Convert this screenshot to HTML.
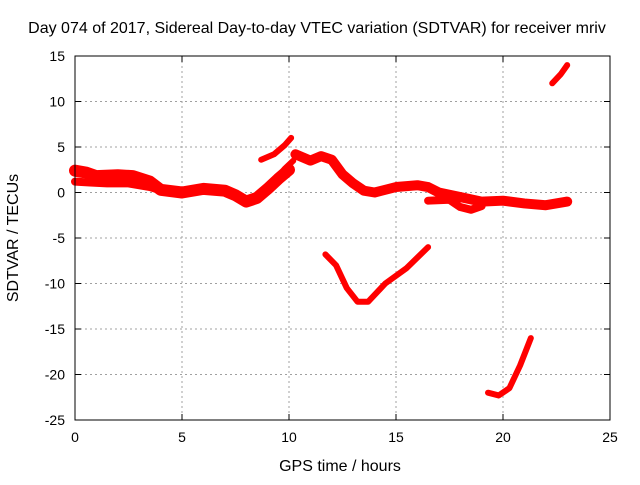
<!DOCTYPE html>
<html><head><meta charset="utf-8"><style>
body{margin:0;background:#fff}
svg text{font-family:"Liberation Sans",sans-serif;font-size:14px;fill:#000}
svg text.big{font-size:16px}
</style></head><body>
<svg id="chart" width="640" height="480">
<text class="big" x="317" y="33" text-anchor="middle">Day 074 of 2017, Sidereal Day-to-day VTEC variation (SDTVAR) for receiver mriv</text>
<g id="grid"></g><g id="series"></g><g id="axes"></g>
<text class="big" x="340" y="471" text-anchor="middle">GPS time / hours</text>
<text class="big" transform="translate(18,238) rotate(-90)" text-anchor="middle">SDTVAR / TECUs</text>
</svg>
<script>
const xTicks=[0,5,10,15,20,25];
const yTicks=[15,10,5,0,-5,-10,-15,-20,-25];
const s1x=[0,0.5,1,2,2.7,3.5,4,5,6,7,7.5,8,8.5,9,9.5,10];
const s1y=[2.4,2.2,1.8,1.9,1.8,1.2,0.3,0,0.4,0.2,-0.3,-1,-0.6,0.4,1.5,2.5];
const s1bx=[0,0.7,1.5,2.5,3.5,4.2];
const s1by=[1.2,1.1,1.0,1.0,0.6,0.1];
const s1cx=[8.8,9.3,9.8,10.2];
const s1cy=[0.3,1.2,2.6,3.5];
const s2x=[8.7,9.3,9.8,10.1];
const s2y=[3.6,4.2,5.2,6];
const s3x=[10.3,11,11.5,12,12.5,13,13.5,14,15,16,16.5,17,18,19,20,21,22,23];
const s3y=[4.2,3.5,4,3.6,2,1,0.2,0,0.6,0.8,0.6,0,-0.5,-1,-0.9,-1.2,-1.4,-1];
const s4x=[16.5,17.5,18,18.5,19];
const s4y=[-0.9,-0.8,-1.6,-1.9,-1.5];
const s5x=[11.7,12.2,12.7,13.2,13.7,14.5,15.5,16.5];
const s5y=[-6.8,-8,-10.5,-12,-12,-10,-8.3,-6];
const s6x=[19.3,19.8,20.3,20.8,21.3];
const s6y=[-22,-22.3,-21.5,-19,-16];
const s7x=[22.3,22.7,23];
const s7y=[12,13,14];
const L=75,R=610,T=56,B=420;
const X=v=>L+(v-0)/25*(R-L), Y=v=>T+(15-v)/40*(B-T);
const NS="http://www.w3.org/2000/svg";
function mk(tag,at,parent){const e=document.createElementNS(NS,tag);for(const k in at)e.setAttribute(k,at[k]);parent.appendChild(e);return e;}
const grid=document.getElementById('grid'),axes=document.getElementById('axes'),ser=document.getElementById('series');
xTicks.forEach(t=>{
 if(t>0&&t<25){const g=mk('line',{x1:X(t),x2:X(t),y1:T,y2:B,stroke:'#a0a0a0','stroke-dasharray':'2,3'},grid);
 
 }
 const tk=mk('text',{x:X(t),y:B+22,'text-anchor':'middle'},axes);tk.textContent=t;
 
 
 mk('line',{x1:X(t),x2:X(t),y1:B,y2:B-6,stroke:'#000'},axes);
 mk('line',{x1:X(t),x2:X(t),y1:T,y2:T+6,stroke:'#000'},axes);
});
yTicks.forEach(t=>{
 if(t<15&&t>-25){const g=mk('line',{x1:L,x2:R,y1:Y(t),y2:Y(t),stroke:'#a0a0a0','stroke-dasharray':'2,3'},grid);
 
 }
 const tk=mk('text',{x:L-10,y:Y(t)+5,'text-anchor':'end'},axes);tk.textContent=t;
 
 
 mk('line',{x1:L,x2:L+6,y1:Y(t),y2:Y(t),stroke:'#000'},axes);
 mk('line',{x1:R,x2:R-6,y1:Y(t),y2:Y(t),stroke:'#000'},axes);
});
const fr=mk('rect',{x:L,y:T,width:R-L,height:B-T,fill:'none',stroke:'#000'},axes);


const all=[[s1x,s1y,12],[s1bx,s1by,8],[s1cx,s1cy,6],[s2x,s2y,6],[s3x,s3y,10],[s4x,s4y,8],[s5x,s5y,6],[s6x,s6y,6],[s7x,s7y,6]];
all.forEach((s,i)=>{
 const p=mk('polyline',{points:s[0].map((x,j)=>X(x)+','+Y(s[1][j])).join(' '),fill:'none',stroke:'#ff0000','stroke-width':s[2],'stroke-linejoin':'round','stroke-linecap':'round'},ser);
 
 
});
</script>
</body></html>
